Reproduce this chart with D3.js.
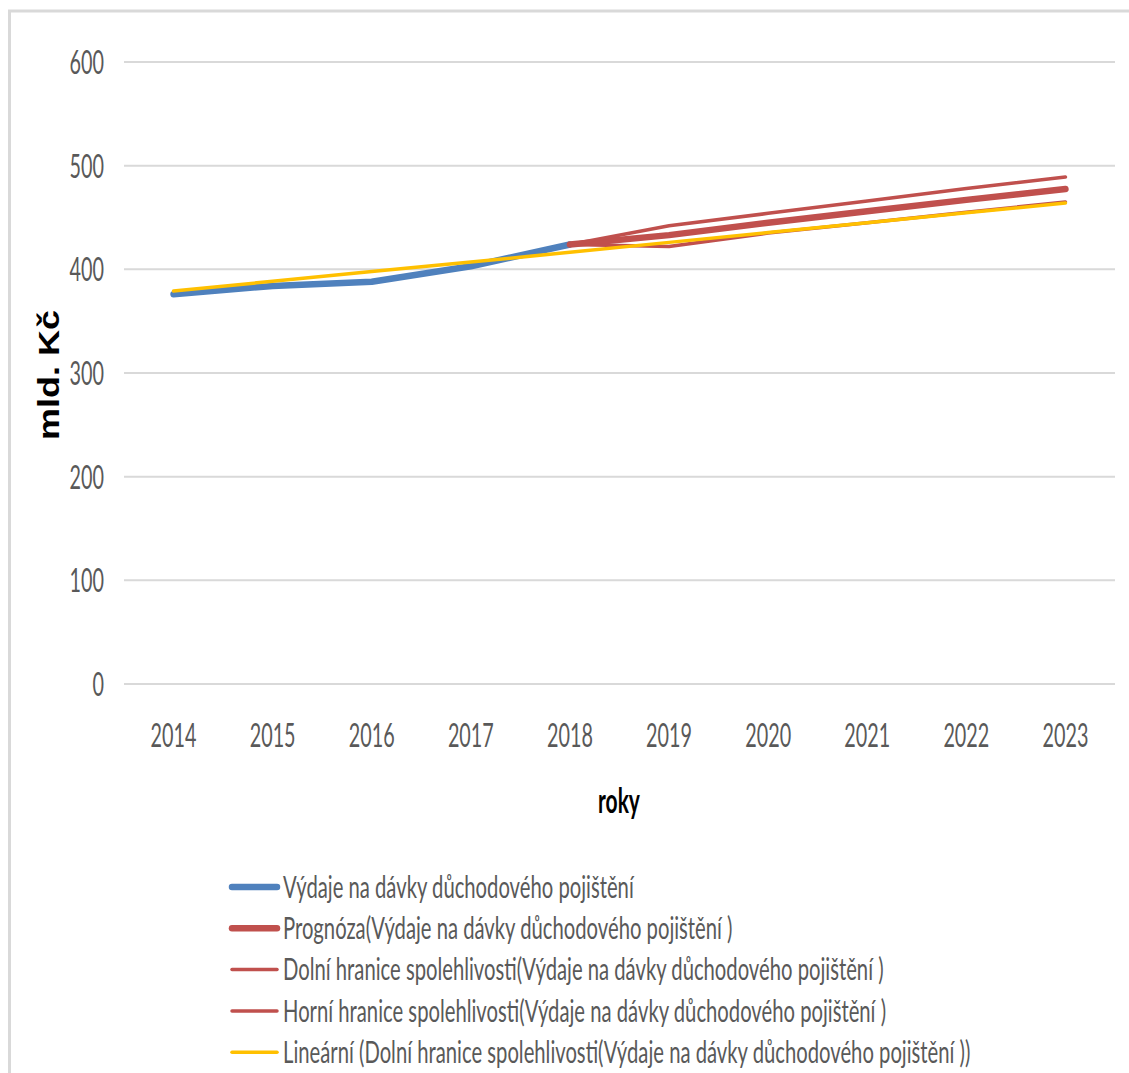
<!DOCTYPE html>
<html>
<head>
<meta charset="utf-8">
<script src="https://cdn.jsdelivr.net/npm/d3@7"></script>
<style>
  body { margin: 0; background: #fff; }
  text { font-family: Lato, "Open Sans", sans-serif; }
</style>
</head>
<body>
<div id="chart"></div>
<script>
// roky a hodnoty (mld. Kč)
const years = [2014, 2015, 2016, 2017, 2018, 2019, 2020, 2021, 2022, 2023];
const vydaje = [376, 384, 388, 403, 424, null, null, null, null, null];
const prognoza = [null, null, null, null, 424, 433, 445, 456, 467, 477.5];
const dolni = [null, null, null, null, 424, 422, 435, 445, 455, 465];
const horni = [null, null, null, null, 424, 442, 454, 466, 478, 489];
const linearni = [379, 388.5, 398, 407, 416.5, 426, 435.5, 445, 454.5, 464];
const yTicks = [0, 100, 200, 300, 400, 500, 600];

const legendNames = [
  'Výdaje na dávky důchodového pojištění',
  'Prognóza(Výdaje na dávky důchodového pojištění )',
  'Dolní hranice spolehlivosti(Výdaje na dávky důchodového pojištění )',
  'Horní hranice spolehlivosti(Výdaje na dávky důchodového pojištění )',
  'Lineární (Dolní hranice spolehlivosti(Výdaje na dávky důchodového pojištění ))'
];

const series = [
  { values: vydaje, color: '#4f81bd', width: 6.5 },
  { values: prognoza, color: '#c0504d', width: 6.5 },
  { values: dolni, color: '#c0504d', width: 3.5 },
  { values: horni, color: '#c0504d', width: 3.5 },
  { values: linearni, color: '#ffc000', width: 3.5 }
];

const W = 1129, H = 1073;
const squeeze = 0.6; // text je v originále zúžený
const legendSqueeze = 0.675;

const svg = d3.select('#chart').append('svg')
  .attr('width', W)
  .attr('height', H);

// rámeček
svg.append('rect')
  .attr('x', 9.5).attr('y', 11)
  .attr('width', W + 20).attr('height', H + 20)
  .attr('fill', 'none')
  .attr('stroke', '#d9d9d9')
  .attr('stroke-width', 3);

const x = d3.scaleBand().domain(years).range([124, 1115]);
const y = d3.scaleLinear().domain([0, 600]).range([684, 62]);

// mřížka
svg.append('g')
  .selectAll('line')
  .data(yTicks)
  .join('line')
  .attr('x1', 124).attr('x2', 1115)
  .attr('y1', d => y(d)).attr('y2', d => y(d))
  .attr('stroke', '#d9d9d9')
  .attr('stroke-width', 2);

// popisky osy y
svg.append('g')
  .selectAll('text')
  .data(yTicks)
  .join('text')
  .attr('transform', d => `translate(104, ${y(d)}) scale(${squeeze}, 1)`)
  .attr('text-anchor', 'end')
  .attr('dy', '0.36em')
  .attr('font-size', 33)
  .attr('fill', '#595959')
  .text(d => d);

// popisky osy x
svg.append('g')
  .selectAll('text')
  .data(years)
  .join('text')
  .attr('transform', d => `translate(${x(d) + x.bandwidth() / 2}, 735) scale(${squeeze}, 1)`)
  .attr('text-anchor', 'middle')
  .attr('dy', '0.36em')
  .attr('font-size', 33)
  .attr('fill', '#595959')
  .text(d => d);

// názvy os
svg.append('text')
  .attr('transform', `translate(619, 800) scale(${squeeze}, 1)`)
  .attr('text-anchor', 'middle')
  .attr('dy', '0.36em')
  .attr('font-size', 35)
  .attr('font-weight', 'bold')
  .attr('fill', '#000')
  .text('roky');

svg.append('text')
  .attr('transform', 'translate(49, 375) rotate(-90) scale(1, 0.8)')
  .attr('text-anchor', 'middle')
  .attr('dy', '0.36em')
  .style('font-family', '"Liberation Sans", Arial, sans-serif')
  .attr('font-size', 36)
  .attr('font-weight', 'bold')
  .attr('fill', '#000')
  .text('mld. Kč');

// čáry
const line = d3.line()
  .defined(d => d != null)
  .x((d, i) => x(years[i]) + x.bandwidth() / 2)
  .y(d => y(d));

svg.append('g')
  .selectAll('path')
  .data(series)
  .join('path')
  .attr('d', d => line(d.values))
  .attr('fill', 'none')
  .attr('stroke', d => d.color)
  .attr('stroke-width', d => d.width)
  .attr('stroke-linejoin', 'round')
  .attr('stroke-linecap', 'round');

// legenda
const legend = svg.append('g')
  .selectAll('g')
  .data(series)
  .join('g')
  .attr('transform', (d, i) => `translate(230, ${887 + i * 41.3})`);

legend.append('line')
  .attr('x1', 2).attr('x2', 47)
  .attr('stroke', d => d.color)
  .attr('stroke-width', d => d.width)
  .attr('stroke-linecap', 'round');

legend.append('text')
  .attr('transform', `translate(53, 0) scale(${legendSqueeze}, 1)`)
  .attr('dy', '0.36em')
  .attr('font-size', 30)
  .attr('fill', '#595959')
  .text((d, i) => legendNames[i]);
</script>
</body>
</html>
